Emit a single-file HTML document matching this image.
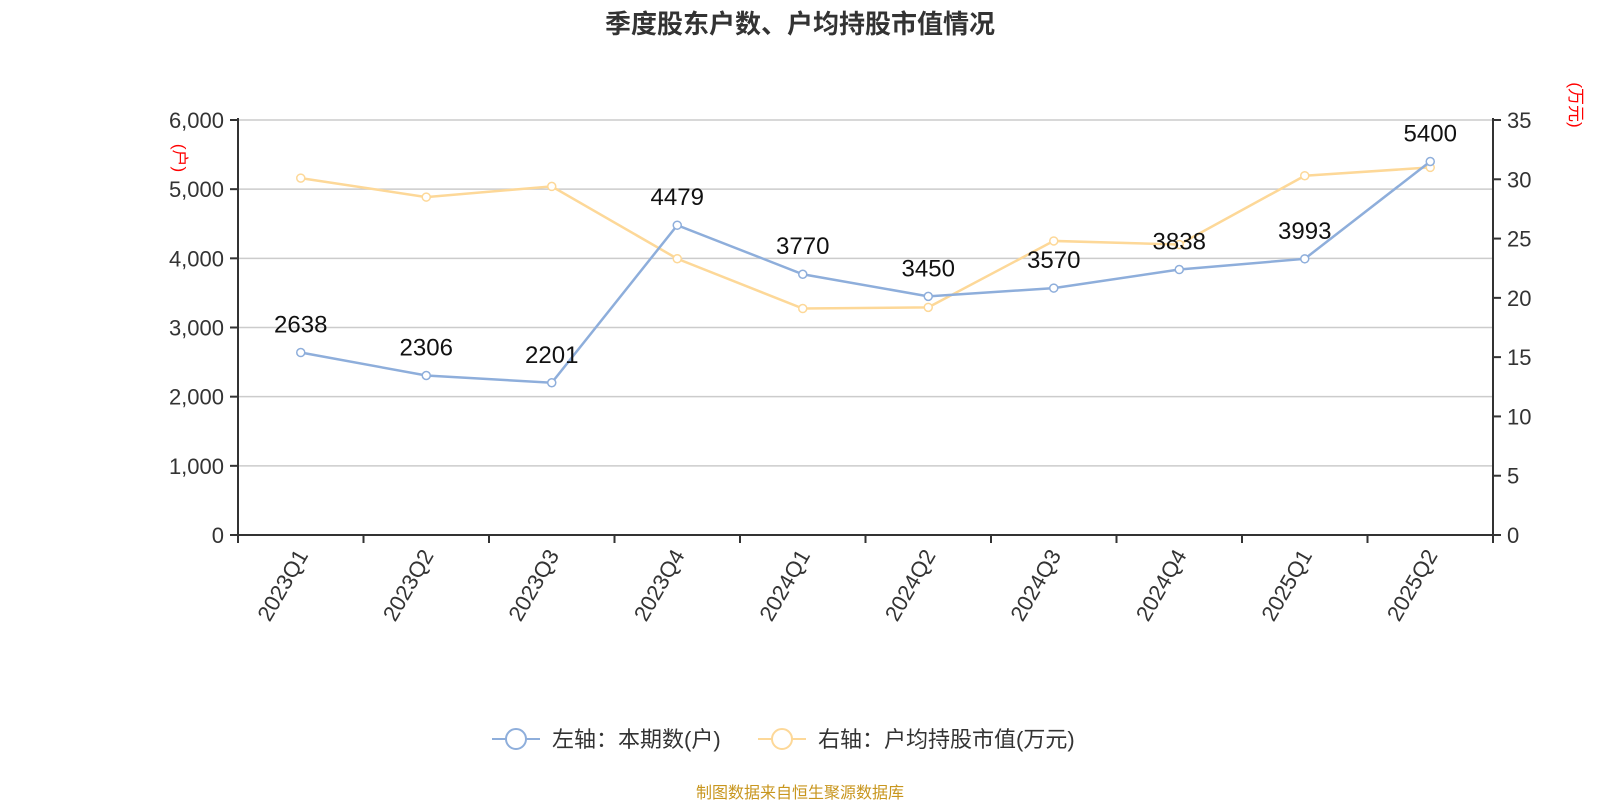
<!DOCTYPE html>
<html><head><meta charset="utf-8"><style>
body{margin:0;background:#fff;width:1600px;height:800px;overflow:hidden;font-family:"Liberation Sans","Noto Sans CJK SC",sans-serif}
</style></head><body>
<svg id="chart" width="1600" height="800" xmlns="http://www.w3.org/2000/svg" font-family="Liberation Sans, Noto Sans CJK SC, sans-serif">
<text x="800" y="33" text-anchor="middle" font-size="26" font-weight="bold" fill="#333">季度股东户数、户均持股市值情况</text>
<g id="grid"></g><g id="axes"></g><g id="series"></g>
<text transform="translate(174,158) rotate(90)" text-anchor="middle" font-size="17" fill="red">(户)</text>
<text transform="translate(1570,105) rotate(90)" text-anchor="middle" font-size="17" fill="red">(万元)</text>
<g>
<g>
<line x1="492" y1="739" x2="540" y2="739" stroke="#8eaedb" stroke-width="2"/><circle cx="516" cy="739" r="10" fill="#fff" stroke="#8eaedb" stroke-width="2"/>
<text x="552" y="747" font-size="22" fill="#333">左轴：本期数(户)</text></g>
<g>
<line x1="758" y1="739" x2="806" y2="739" stroke="#fdd898" stroke-width="2"/><circle cx="782" cy="739" r="10" fill="#fff" stroke="#fdd898" stroke-width="2"/>
<text x="818" y="747" font-size="22" fill="#333">右轴：户均持股市值(万元)</text></g>
</g>
<text x="800" y="798" text-anchor="middle" font-size="16" fill="#c8961e">制图数据来自恒生聚源数据库</text>
</svg>
<script>
const categories=["2023Q1","2023Q2","2023Q3","2023Q4","2024Q1","2024Q2","2024Q3","2024Q4","2025Q1","2025Q2"];
const households=[2638,2306,2201,4479,3770,3450,3570,3838,3993,5400];
const avgValue=[30.1,28.5,29.4,23.3,19.1,19.2,24.8,24.5,30.3,31.0];
const leftTicks=[0,1000,2000,3000,4000,5000,6000];
const rightTicks=[0,5,10,15,20,25,30,35];
const X0=238,X1=1493,Y0=535,Y1=120,NS="http://www.w3.org/2000/svg";
const bw=(X1-X0)/categories.length;
const x=i=>X0+bw*(i+0.5);
const yL=v=>Y0-(v/6000)*(Y0-Y1);
const yR=v=>Y0-(v/35)*(Y0-Y1);
function mk(p,t,a){const e=document.createElementNS(NS,t);for(const k in a)e.setAttribute(k,a[k]);p.appendChild(e);return e;}
const grid=document.getElementById('grid'),axes=document.getElementById('axes'),ser=document.getElementById('series');
leftTicks.forEach(v=>{
 if(v>0){const g=mk(grid,'line',{x1:X0,x2:X1,y1:yL(v),y2:yL(v),stroke:'#ccc','stroke-width':1.5});
 
 }
 mk(axes,'line',{x1:X0-8,x2:X0,y1:yL(v),y2:yL(v),stroke:'#333','stroke-width':2});
 const t=mk(axes,'text',{x:X0-14,y:yL(v)+8,'text-anchor':'end','font-size':22,fill:'#333'});
 t.textContent=v.toLocaleString('en-US');
 
 
});
rightTicks.forEach(v=>{
 mk(axes,'line',{x1:X1,x2:X1+8,y1:yR(v),y2:yR(v),stroke:'#333','stroke-width':2});
 const t=mk(axes,'text',{x:X1+14,y:yR(v)+8,'font-size':22,fill:'#333'});
 t.textContent=v;
 
 
});
mk(axes,'line',{x1:X0,x2:X0,y1:Y1-2,y2:Y0,stroke:'#333','stroke-width':2});
mk(axes,'line',{x1:X1,x2:X1,y1:Y1-2,y2:Y0,stroke:'#333','stroke-width':2});
mk(axes,'line',{x1:X0,x2:X1,y1:Y0,y2:Y0,stroke:'#333','stroke-width':2});
for(let i=0;i<=categories.length;i++)mk(axes,'line',{x1:X0+bw*i,x2:X0+bw*i,y1:Y0,y2:Y0+8,stroke:'#333','stroke-width':2});
categories.forEach((c,i)=>{
 const t=mk(axes,'text',{transform:`translate(${x(i)+8},${Y0+20}) rotate(-60)`,'text-anchor':'end','font-size':22,fill:'#333'});
 t.textContent=c;
 
 
});
function line(vals,fy,col,name){
 const p=mk(ser,'polyline',{points:vals.map((v,i)=>x(i)+','+fy(v)).join(' '),fill:'none',stroke:col,'stroke-width':2.5});
 
 
 vals.forEach((v,i)=>{const c=mk(ser,'circle',{cx:x(i),cy:fy(v),r:4,fill:'#fff',stroke:col,'stroke-width':1.5});
 
 });
}
line(avgValue,yR,'#fdd898','avg-value');
line(households,yL,'#8eaedb','households');
households.forEach((v,i)=>{
 const t=mk(ser,'text',{x:x(i),y:yL(v)-20,'text-anchor':'middle','font-size':24,fill:'#111'});
 t.textContent=v;
 
 
});
</script>
</body></html>
